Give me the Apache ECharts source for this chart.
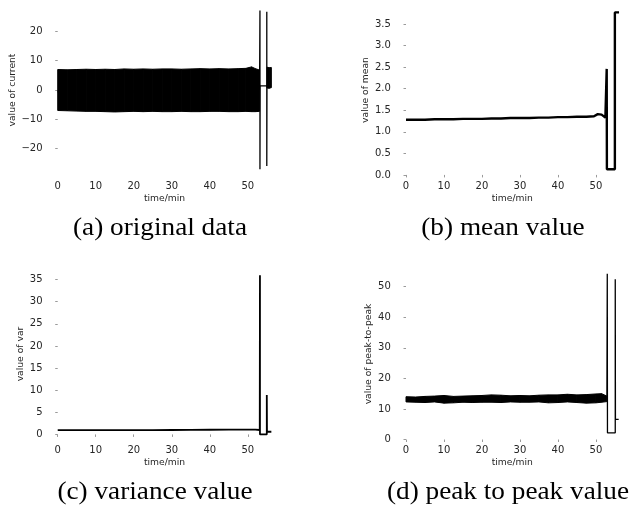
<!DOCTYPE html>
<html><head><meta charset="utf-8">
<script src="https://cdn.jsdelivr.net/npm/echarts@6/dist/echarts.min.js"></script>
<style>html,body{margin:0;padding:0;background:#fff}#c{width:633px;height:506px}</style>
</head><body><div id="c"></div>
<script>
// ---- tick labels ----
const timeTicks = [0, 10, 20, 30, 40, 50];
const currentTicks = [-20, -10, 0, 10, 20];
const meanTicks = [0, 0.5, 1, 1.5, 2, 2.5, 3, 3.5];
const varTicks = [0, 5, 10, 15, 20, 25, 30, 35];
const p2pTicks = [0, 10, 20, 30, 40, 50];

// ---- (a) original current: envelope of the dense oscillation, then the event trace ----
const curBandT  = [0, 2.5, 5, 7.5, 10, 12.5, 15, 17.5, 20, 22.5, 25, 27.5, 30, 32.5, 35, 37.5, 40, 42.5, 45, 47.5, 49.5, 51, 52, 53.1];
const curBandHi = [7.0, 6.9, 7.0, 7.1, 7.0, 7.1, 7.0, 7.2, 7.1, 7.2, 7.1, 7.2, 7.2, 7.1, 7.2, 7.3, 7.2, 7.3, 7.2, 7.3, 7.4, 7.9, 7.3, 6.8];
const curBandLo = [-7.0, -7.1, -7.2, -7.3, -7.3, -7.4, -7.5, -7.4, -7.3, -7.4, -7.3, -7.4, -7.4, -7.3, -7.4, -7.4, -7.3, -7.3, -7.4, -7.4, -7.3, -7.4, -7.4, -7.3];
const curTraceT = [53.1, 53.2, 53.2, 53.25, 55.0, 55.0, 55.0, 55.05];
const curTraceV = [0, 27.2, -27.1, 1.4, 1.4, 26.7, -26.0, 4.0];
const curTailT  = [55.05, 55.6, 56.2];
const curTailHi = [7.8, 7.6, 7.7];
const curTailLo = [0.7, 0.6, 0.8];

// ---- (b) mean value ----
const meanT = [0, 2.5, 5, 7.5, 10, 12.5, 15, 17.5, 20, 22.5, 25, 27.5, 30, 32.5, 35, 37.5, 40, 42.5, 45, 47.5, 49.5, 50.5, 51, 51.5, 52, 52.5, 52.85, 52.85, 52.9, 55.0, 55.0, 55.1, 56.1];
const meanV = [1.28, 1.28, 1.28, 1.29, 1.29, 1.29, 1.30, 1.30, 1.30, 1.31, 1.31, 1.32, 1.32, 1.32, 1.33, 1.33, 1.34, 1.34, 1.35, 1.35, 1.36, 1.41, 1.44, 1.40, 1.36, 1.33, 1.30, 2.46, 0.13, 0.13, 3.77, 3.77, 3.77];

// ---- (c) variance value ----
const varT = [0, 5, 10, 15, 20, 25, 30, 35, 40, 45, 50, 52, 53.15, 53.2, 53.2, 55.0, 55.0, 55.05, 56.2];
const varV = [0.95, 0.95, 0.95, 0.96, 0.97, 0.98, 1.0, 1.02, 1.05, 1.07, 1.1, 1.1, 1.0, 36.0, 0.0, 0.0, 8.9, 0.6, 0.6];

// ---- (d) peak to peak value ----
const p2pBandT  = [0, 2.5, 5, 7.5, 10, 12.5, 15, 17.5, 20, 22.5, 25, 27.5, 30, 32.5, 35, 37.5, 40, 42.5, 45, 47.5, 50, 51.5, 52.9];
const p2pBandHi = [14.0, 13.9, 14.1, 14.2, 14.4, 14.1, 14.2, 14.3, 14.4, 14.6, 14.5, 14.3, 14.4, 14.3, 14.5, 14.6, 14.6, 14.8, 14.6, 14.7, 14.9, 15.0, 14.2];
const p2pBandLo = [12.3, 12.2, 12.1, 12.3, 11.9, 12.0, 12.2, 12.1, 12.2, 12.2, 12.1, 12.3, 12.2, 12.2, 12.3, 12.0, 12.1, 12.3, 12.1, 11.9, 12.0, 12.2, 12.4];
const p2pTraceT = [52.9, 53.0, 53.05, 55.1, 55.1, 55.15, 56.0];
const p2pTraceV = [13.0, 54.2, 2.2, 2.2, 52.4, 6.6, 6.6];

// ---- captions ----
const captions = ['(a) original data', '(b) mean value', '(c) variance value', '(d) peak to peak value'];
const yNames = ['value of current', 'value of mean', 'value of var', 'value of peak-to-peak'];

const TXT = '#262626';
const pair = (xs, ys) => xs.map((x, i) => [x, ys[i]]);

function line(idx, xs, ys, w) {
  return { type: 'line', xAxisIndex: idx, yAxisIndex: idx, data: pair(xs, ys), symbol: 'none',
    lineStyle: { color: '#000', width: w }, animation: false, silent: true, z: 3 };
}
// filled band between lower and upper envelope, one quad per consecutive pair of samples
function band(idx, xs, lo, hi) {
  return {
    type: 'custom', xAxisIndex: idx, yAxisIndex: idx, animation: false, silent: true, z: 2,
    data: xs.map((x, i) => [x, lo[i], hi[i]]),
    encode: { x: 0, y: [1, 2] },
    renderItem: function (params, api) {
      const i = params.dataIndex;
      if (i >= xs.length - 1) return null;
      const a = api.coord([xs[i], hi[i]]), b = api.coord([xs[i + 1], hi[i + 1]]);
      const c = api.coord([xs[i + 1], lo[i + 1]]), d = api.coord([xs[i], lo[i]]);
      return { type: 'polygon', shape: { points: [a, b, c, d] },
        style: { fill: '#000', stroke: '#000', lineWidth: 1 } };
    }
  };
}

const grids = [
  { left: 47, top: 2.5, width: 235, height: 175 },
  { left: 395.3, top: 2.5, width: 234, height: 175 },
  { left: 47, top: 266.5, width: 235, height: 175 },
  { left: 395.3, top: 266.5, width: 234, height: 175 }
].map(g => Object.assign({ outerBoundsMode: 'none', containLabel: false }, g));

const xRanges = [[-2.82, 59.0], [-2.82, 58.8], [-2.82, 59.0], [-2.82, 58.8]];
const yRanges = [[-29.9, 29.9], [-0.06, 4.0], [-1.6, 37.95], [-0.65, 56.6]];
const yTickSets = [currentTicks, meanTicks, varTicks, p2pTicks];
const yGaps = [30, 25, 21.5, 22];
const yFmt = [
  v => (v < 0 ? '\u2212' + Math.abs(v) : String(v)),
  v => v.toFixed(1),
  v => String(v),
  v => String(v)
];

const xAxes = grids.map((g, i) => ({
  type: 'value', gridIndex: i, min: xRanges[i][0], max: xRanges[i][1],
  axisLine: { show: false }, splitLine: { show: false },
  axisTick: { show: true, length: 2.5, lineStyle: { color: '#9a9a9a', width: 1 }, customValues: timeTicks },
  axisLabel: { customValues: timeTicks, margin: 4, fontFamily: 'DejaVu Sans', fontSize: 10, color: TXT },
  name: 'time/min', nameLocation: 'middle', nameGap: 17,
  nameTextStyle: { fontFamily: 'DejaVu Sans', fontSize: 9.2, color: TXT }
}));
const yAxes = grids.map((g, i) => ({
  type: 'value', gridIndex: i, min: yRanges[i][0], max: yRanges[i][1],
  axisLine: { show: false }, splitLine: { show: false },
  axisTick: { show: true, length: 2.5, lineStyle: { color: '#9a9a9a', width: 1 }, customValues: yTickSets[i] },
  axisLabel: { customValues: yTickSets[i], margin: 4.5, fontFamily: 'DejaVu Sans', fontSize: 10, color: TXT, formatter: yFmt[i] },
  name: yNames[i], nameLocation: 'middle', nameGap: yGaps[i],
  nameTextStyle: { fontFamily: 'DejaVu Sans', fontSize: 9.2, color: TXT }
}));

const series = [
  band(0, curBandT, curBandLo, curBandHi),
  band(0, curTailT, curTailLo, curTailHi),
  line(0, curTraceT, curTraceV, 1.3),
  line(1, meanT, meanV, 2.4),
  line(2, varT, varV, 1.8),
  band(3, p2pBandT, p2pBandLo, p2pBandHi),
  line(3, p2pTraceT, p2pTraceV, 1.3)
];

const capPos = [[160, 228], [503, 228], [155, 492.5], [508, 492.5]];
const graphic = captions.map((t, i) => ({
  type: 'text', x: capPos[i][0], y: capPos[i][1], scaleX: 1.09, silent: true,
  style: { text: t, font: '25px "Liberation Serif"', fill: '#000', align: 'center', verticalAlign: 'middle',
           textAlign: 'center', textVerticalAlign: 'middle' }
}));

const chart = echarts.init(document.getElementById('c'), null, { renderer: 'canvas' });
chart.setOption({
  animation: false,
  backgroundColor: '#fff',
  grid: grids,
  xAxis: xAxes,
  yAxis: yAxes,
  series: series,
  graphic: graphic
});
</script>
</body></html>
